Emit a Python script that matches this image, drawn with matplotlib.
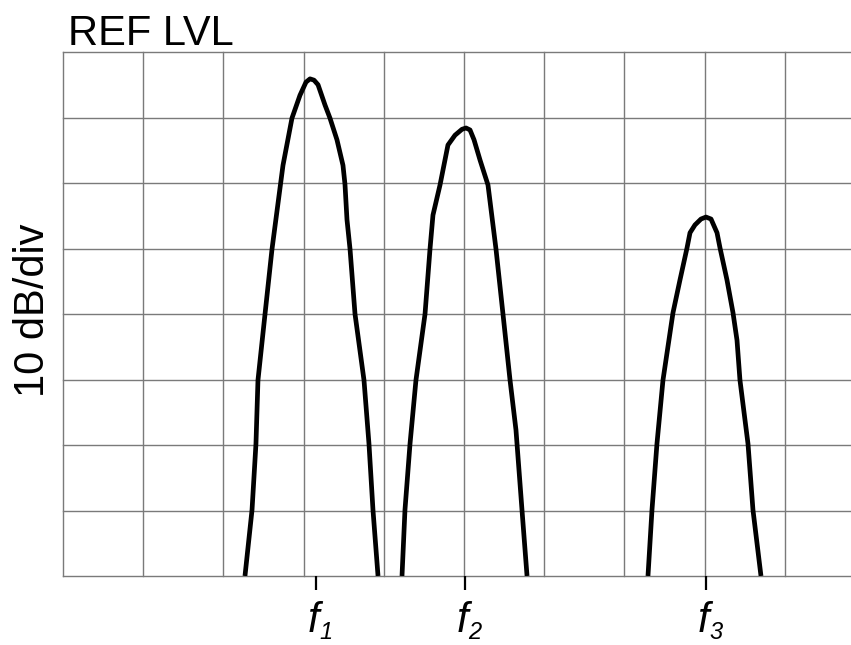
import matplotlib
matplotlib.use("Agg")
import matplotlib.pyplot as plt
from matplotlib.transforms import blended_transform_factory, offset_copy

plt.rcParams['font.family'] = ['Liberation Sans', 'DejaVu Sans']

# x in screen divisions, y in dB relative to reference level (10 dB/div)
peak1_x = [2.269, 2.357, 2.406, 2.431, 2.519, 2.606, 2.743, 2.855, 2.955, 3.030, 3.080, 3.130, 3.180,
           3.267, 3.329, 3.416, 3.491, 3.516, 3.541, 3.579, 3.641, 3.753, 3.815, 3.865, 3.928]
peak1_y = [-80.0, -69.9, -59.8, -50.1, -40.0, -30.1, -17.3, -10.1, -6.6, -4.6, -4.1, -4.3, -5.0,
           -8.1, -10.1, -13.4, -17.3, -20.2, -25.6, -30.1, -40.0, -50.1, -59.8, -69.9, -80.0]

peak2_x = [4.227, 4.264, 4.327, 4.401, 4.514, 4.576, 4.613, 4.701, 4.800, 4.888, 4.975, 5.025, 5.075,
           5.125, 5.200, 5.299, 5.399, 5.486, 5.574, 5.648, 5.723, 5.786]
peak2_y = [-80.0, -69.9, -59.8, -50.1, -40.0, -30.1, -24.9, -20.3, -14.2, -12.7, -11.8, -11.6, -11.9,
           -13.4, -16.5, -20.3, -30.1, -40.0, -50.1, -57.7, -69.9, -80.0]

peak3_x = [7.294, 7.344, 7.406, 7.481, 7.606, 7.693, 7.781, 7.818, 7.880, 7.955, 8.017, 8.080,
           8.155, 8.192, 8.279, 8.354, 8.404, 8.441, 8.541, 8.603, 8.703]
peak3_y = [-80.0, -69.9, -59.8, -50.1, -39.8, -34.8, -29.9, -27.6, -26.4, -25.5, -25.2, -25.5,
           -27.6, -29.9, -34.8, -39.8, -44.0, -50.1, -59.8, -69.9, -80.0]

freq_ticks = [3.155, 5.012, 8.017]
freq_symbol = 'f'
freq_subscripts = ['1', '2', '3']

grid_x = list(range(0, 11))
grid_y = list(range(-80, 1, 10))

fig = plt.figure(figsize=(8.51, 6.45), dpi=100)
W, H = 851, 645
ax = fig.add_axes([63 / W, (H - 576) / H, 802 / W, 524 / H])

ax.set_xlim(0, 10)
ax.set_ylim(-80, 0)

gcol = '#7a7a7a'
for gx in grid_x:
    ax.axvline(gx, color=gcol, lw=1.0, zorder=1, clip_on=False)
for gy in grid_y:
    ax.axhline(gy, color=gcol, lw=1.0, zorder=1, clip_on=False)

for xs, ys in [(peak1_x, peak1_y), (peak2_x, peak2_y), (peak3_x, peak3_y)]:
    ax.plot(xs, ys, color='black', lw=3.4, solid_joinstyle='round', solid_capstyle='butt', zorder=3)

for s in ax.spines.values():
    s.set_visible(False)

ax.set_yticks([])
ax.set_xticks(freq_ticks)
ax.set_xticklabels([''] * len(freq_ticks))
ax.tick_params(axis='x', direction='out', length=9.8, width=1.6, color='black', pad=4)

base = blended_transform_factory(ax.transData, ax.transAxes)
for xt, sub in zip(freq_ticks, freq_subscripts):
    t_main = offset_copy(base, fig=fig, x=-3, y=-56, units='dots')
    ax.text(xt, 0, freq_symbol, transform=t_main, fontsize=30, fontstyle='italic',
            ha='center', va='baseline', clip_on=False)
    t_sub = offset_copy(base, fig=fig, x=10, y=-63, units='dots')
    ax.text(xt, 0, sub, transform=t_sub, fontsize=17, fontstyle='italic',
            ha='center', va='baseline', clip_on=False)

fig.text(68 / W, 1 - 45 / H, 'REF LVL', fontsize=30, ha='left', va='baseline')
fig.text(33 / W, 1 - 310 / H, '10 dB/div', fontsize=30, rotation=90, ha='center', va='center')

fig.savefig('out.png', dpi=100, facecolor='white')
